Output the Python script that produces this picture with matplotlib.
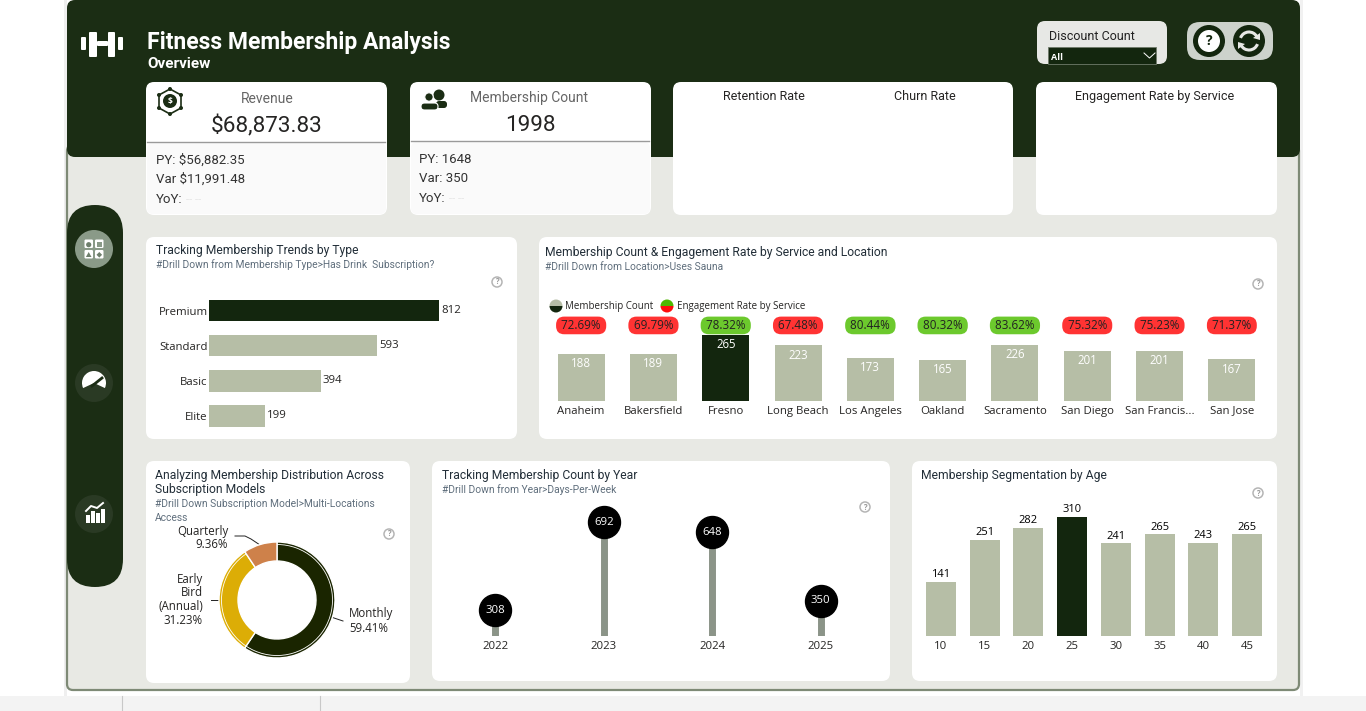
import matplotlib
matplotlib.use('Agg')
import matplotlib.pyplot as plt
from matplotlib.patches import FancyBboxPatch, Circle, Rectangle, Wedge, Polygon, Arc

plt.rcParams['font.family'] = ['Open Sans', 'DejaVu Sans']

W, H = 1366, 711
DARK = '#1B2D14'
BAR_DARK = '#13260E'
BAR_LIGHT = '#B6BEA6'
PANEL = '#E8E9E4'
TITLE = '#222E38'
SUB = '#5F6E7C'
DIN = ['Roboto', 'DejaVu Sans']

# Data
type_names = ['Premium', 'Standard', 'Basic', 'Elite']
type_counts = [812, 593, 394, 199]

locations = ['Anaheim', 'Bakersfield', 'Fresno', 'Long Beach', 'Los Angeles', 'Oakland',
             'Sacramento', 'San Diego', 'San Francis...', 'San Jose']
location_counts = [188, 189, 265, 223, 173, 165, 226, 201, 201, 167]
engagement = [72.69, 69.79, 78.32, 67.48, 80.44, 80.32, 83.62, 75.32, 75.23, 71.37]
engagement_cutoff = 78

model_share = [59.41, 31.23, 9.36]
model_colors = ['#1A2500', '#DCAD06', '#CE814A']

years = ['2022', '2023', '2024', '2025']
year_counts = [308, 692, 648, 350]

ages = ['10', '15', '20', '25', '30', '35', '40', '45']
age_counts = [141, 251, 282, 310, 241, 265, 243, 265]

fig = plt.figure(figsize=(W / 100, H / 100), dpi=100, facecolor='white')

# Background layer in pixel coordinates
bg = fig.add_axes([0, 0, 1, 1])
bg.set_xlim(0, W)
bg.set_ylim(H, 0)
bg.axis('off')


def box(x0, y0, x1, y1, r=8, fc='white', ec='none', lw=0, z=1):
    p = FancyBboxPatch((x0 + r, y0 + r), x1 - x0 - 2 * r, y1 - y0 - 2 * r,
                       boxstyle=f'round,pad={r},rounding_size={r}', fc=fc, ec=ec, lw=lw, zorder=z)
    bg.add_patch(p)
    return p


def text(x, y, s, size=9, color='black', ha='left', va='center', weight='normal', z=6, **kw):
    return bg.text(x, y, s, fontsize=size, color=color, ha=ha, va=va, weight=weight, zorder=z, **kw)


def din(x, y, s, size=9, color='black', ha='left', weight='normal'):
    # Roboto sits a little high compared to the original font
    return text(x, y + 1 + size * 0.11, s, size=size, color=color, ha=ha, weight=weight, family=DIN)


def help_icon(x, y):
    bg.add_patch(Circle((x, y), 5, fc='white', ec='#B5B5B5', lw=1.1, zorder=6))
    text(x, y, '?', size=5.5, color='#9A9A9A', ha='center', weight='bold')


def make_axes(x0, y0, x1, y1):
    ax = fig.add_axes([x0 / W, 1 - y1 / H, (x1 - x0) / W, (y1 - y0) / H])
    ax.patch.set_alpha(0)
    for s in ax.spines.values():
        s.set_visible(False)
    ax.tick_params(length=0)
    return ax


# Page frame
bg.add_patch(Rectangle((0, 696), W, 15, fc='#F3F3F3', ec='none', zorder=0))
for x in [122, 320]:
    bg.plot([x, x], [696, 711], color='#C8C8C8', lw=0.8, zorder=1)
bg.add_patch(Rectangle((64, 0), 3, 696, fc='#EFEFEF', ec='none', zorder=0))
bg.add_patch(Rectangle((1300, 0), 3, 696, fc='#F1F1F1', ec='none', zorder=0))
box(67, 145, 1299, 690, r=6, fc=PANEL, ec='#7E8A76', lw=1.6, z=1)
box(67, 0, 1300, 157, r=8, fc=DARK, z=2)

# Sidebar
box(67, 205, 123, 587, r=28, fc=DARK, z=2)
bg.add_patch(Circle((94, 249), 19, fc='#8A9A88', ec='none', zorder=3))
bg.add_patch(Circle((94, 383), 19, fc='#2A3A24', ec='none', zorder=3))
bg.add_patch(Circle((94, 514), 19, fc='#2A3A24', ec='none', zorder=3))

# Menu icon: four tiles with a small shape in each
for dx, dy in [(-9.5, -9.5), (1, -9.5), (-9.5, 1), (1, 1)]:
    box(94 + dx, 249 + dy, 94 + dx + 8.5, 249 + dy + 8.5, r=1.2, fc='white', z=4)
bg.add_patch(Circle((88.7, 244.7), 2.6, fc='#6E7F6C', ec='none', zorder=5))
bg.add_patch(Rectangle((97, 242), 4.6, 4.6, fc='#8A9A88', ec='none', zorder=5))
bg.add_patch(Polygon([(88.7, 252), (91.5, 257), (85.9, 257)], fc='#6E7F6C', ec='none', zorder=5))
bg.add_patch(Polygon([(99.3, 252), (102.1, 254.8), (99.3, 257.6), (96.5, 254.8)], fc='#6E7F6C', ec='none', zorder=5))

# Gauge icon
bg.add_patch(Wedge((94, 383), 12, 155, 385, fc='white', ec='none', zorder=4))
bg.plot([92, 102], [386, 378], color=DARK, lw=2, zorder=5)

# Chart icon
for bx, bh in [(86, 8), (91, 12), (96, 10), (101, 14)]:
    bg.add_patch(Rectangle((bx, 523 - bh), 3.6, bh, fc='white', ec='none', zorder=4))
bg.plot([86, 91, 97, 103], [511, 506, 508, 503], color='white', lw=1.4, zorder=4)

# Dumbbell icon
for x0, x1, y0, y1 in [(81, 86, 37, 50), (89, 97, 32, 57), (97, 108, 41, 46), (108, 115, 32, 57), (118, 123, 37, 50)]:
    box(x0, y0, x1, y1, r=1, fc='white', z=4)

# Header
din(147, 40, 'Fitness Membership Analysis', size=16.5, color='white', weight='bold')
din(147, 62, 'Overview', size=11, color='white', weight='bold')

# Slicer and buttons
box(1037, 21, 1167, 64, r=8, fc='#E7E8E5', z=3)
din(1049, 35, 'Discount Count', size=9, color='#222222')
bg.add_patch(Rectangle((1048, 47), 108, 17, fc=BAR_DARK, ec='#6F7B6A', lw=0.6, zorder=4))
text(1051, 57, 'All', size=6.5, color='white', weight='bold')
bg.plot([1144, 1149.5, 1155], [53, 58, 53], color='white', lw=0.7, zorder=5)
box(1187, 22, 1273, 60, r=13, fc='#CDD2CC', z=3)
bg.add_patch(Circle((1209, 41), 16, fc=BAR_DARK, ec='none', zorder=4))
bg.add_patch(Circle((1209, 41), 11, fc='white', ec='none', zorder=5))
text(1209, 41, '?', size=10, color=BAR_DARK, ha='center', weight='bold')
bg.add_patch(Circle((1249, 41), 16, fc=BAR_DARK, ec='none', zorder=4))
bg.add_patch(Arc((1249, 41), 18, 18, theta1=200, theta2=330, color='#E7E8E5', lw=2.2, zorder=5))
bg.add_patch(Arc((1249, 41), 18, 18, theta1=20, theta2=150, color='#E7E8E5', lw=2.2, zorder=5))
bg.add_patch(Polygon([(1260, 33), (1260, 40), (1253, 38)], fc='#E7E8E5', ec='none', zorder=5))
bg.add_patch(Polygon([(1238, 49), (1238, 42), (1245, 44)], fc='#E7E8E5', ec='none', zorder=5))

# KPI cards
for x0, y0, x1, y1 in [(146, 82, 387, 215), (410, 82, 651, 215), (673, 82, 1013, 215), (1036, 82, 1277, 215)]:
    box(x0, y0, x1, y1, r=8, z=3)
box(147, 143, 386, 214, r=6, fc='#FAFAFA', z=3)
box(411, 142, 650, 214, r=6, fc='#FAFAFA', z=3)
bg.plot([147, 385], [142, 142], color='#9A9A9A', lw=1, zorder=4)
bg.plot([411, 649], [141, 141], color='#9A9A9A', lw=1, zorder=4)

din(267, 97, 'Revenue', size=10, color='#666666', ha='center')
din(267, 124, '$68,873.83', size=16.2, color='#252423', ha='center')
din(156, 158, 'PY: $56,882.35', size=9.5, color='#333333')
din(156, 177, 'Var $11,991.48', size=9.5, color='#333333')
din(156, 197, 'YoY:', size=9.5, color='#333333')
din(186, 198, '-- --', size=8, color='#E6E6E6')
din(529, 96, 'Membership Count', size=10, color='#666666', ha='center')
din(530, 123, '1998', size=16.2, color='#252423', ha='center')
din(419, 157, 'PY: 1648', size=9.5, color='#333333')
din(419, 176, 'Var: 350', size=9.5, color='#333333')
din(419, 196, 'YoY:', size=9.5, color='#333333')
din(449, 197, '-- --', size=8, color='#E6E6E6')
din(764, 95, 'Retention Rate', size=9, color='#252423', ha='center')
din(925, 95, 'Churn Rate', size=9, color='#252423', ha='center')
din(1155, 95, 'Engagement Rate by Service', size=9, color='#252423', ha='center')

# Card icons
hex_pts = [(170, 89), (181, 95), (181, 108), (170, 114), (159, 108), (159, 95)]
bg.add_patch(Polygon(hex_pts, fc='none', ec=DARK, lw=1.2, zorder=5))
for px, py in hex_pts:
    bg.add_patch(Circle((px, py), 2, fc=DARK, ec='none', zorder=5))
bg.add_patch(Circle((170, 101), 7, fc=DARK, ec='none', zorder=5))
text(170, 101, '$', size=6, color='white', ha='center', weight='bold')
bg.add_patch(Circle((439, 95), 5.5, fc=DARK, ec='none', zorder=5))
box(436, 101, 447, 108, r=3, fc=DARK, z=5)
bg.add_patch(Circle((429, 97), 4.2, fc=DARK, ec='white', lw=0.8, zorder=6))
box(421, 103, 438, 110, r=3.4, fc=DARK, ec='white', lw=0.8, z=6)

# Chart cards
for x0, y0, x1, y1 in [(146, 237, 517, 439), (539, 237, 1277, 439), (146, 461, 410, 683),
                       (432, 461, 890, 681), (912, 461, 1277, 681)]:
    box(x0, y0, x1, y1, r=8, z=3)

din(156, 249, 'Tracking Membership Trends by Type', size=8.75, color=TITLE)
din(156, 263, '#Drill Down from Membership Type>Has Drink  Subscription?', size=7.4, color=SUB)
din(545, 251, 'Membership Count & Engagement Rate by Service and Location', size=8.75, color=TITLE)
din(545, 265, '#Drill Down from Location>Uses Sauna', size=7.4, color=SUB)
din(155, 474, 'Analyzing Membership Distribution Across', size=8.75, color=TITLE)
din(155, 488, 'Subscription Models', size=8.75, color=TITLE)
din(155, 502, '#Drill Down Subscription Model>Multi-Locations', size=7.4, color=SUB)
din(155, 516, 'Access', size=7.4, color=SUB)
din(442, 474, 'Tracking Membership Count by Year', size=8.75, color=TITLE)
din(442, 488, '#Drill Down from Year>Days-Per-Week', size=7.4, color=SUB)
din(921, 474, 'Membership Segmentation by Age', size=8.75, color=TITLE)
for x, y in [(497, 282), (1258, 284), (389, 534), (865, 507), (1258, 493)]:
    help_icon(x, y)

# Legend of the location chart
bg.add_patch(Wedge((556, 306), 6.5, 180, 360, fc=BAR_LIGHT, ec='none', zorder=5))
bg.add_patch(Wedge((556, 306), 6.5, 0, 180, fc=BAR_DARK, ec='none', zorder=5))
text(565, 306, 'Membership Count', size=7, color='#252423')
bg.add_patch(Wedge((667, 306), 6.5, 180, 360, fc='#4FB800', ec='none', zorder=5))
bg.add_patch(Wedge((667, 306), 6.5, 0, 180, fc='#FF0D0D', ec='none', zorder=5))
text(677, 306, 'Engagement Rate by Service', size=7, color='#252423')

# Membership by type
ax = make_axes(209, 293, 460, 434)
ypos = list(range(len(type_names)))
ax.barh(ypos, type_counts, height=0.62,
        color=[BAR_DARK if c == max(type_counts) else BAR_LIGHT for c in type_counts])
ax.set_xlim(0, 812 * 251 / 230)
ax.set_ylim(3.52, -0.5)
ax.set_yticks(ypos, type_names, fontsize=8.2, color='#252423')
ax.set_xticks([])
ax.tick_params(axis='y', pad=1)
for i, c in enumerate(type_counts):
    ax.text(c + 7, i, str(c), va='center', fontsize=8.2, color='#252423')

# Membership by location with engagement pills
ax = make_axes(545, 335, 1268, 401)
xpos = list(range(len(locations)))
ax.bar(xpos, location_counts, width=0.65,
       color=[BAR_DARK if c == max(location_counts) else BAR_LIGHT for c in location_counts])
ax.set_xlim(-0.5, len(locations) - 0.5)
ax.set_ylim(0, 265)
ax.set_yticks([])
ax.set_xticks(xpos, locations, fontsize=8.2, color='#252423')
ax.tick_params(axis='x', pad=3.3)
for i, (c, e) in enumerate(zip(location_counts, engagement)):
    ax.text(i, c - 13, str(c), ha='center', va='top', color='white', fontsize=8.3)
    pill = '#6CC92D' if e >= engagement_cutoff else '#FF3333'
    ax.annotate(f' {e:.2f}% ', (i, 1.145), xycoords=('data', 'axes fraction'), ha='center', va='center',
                fontsize=8.4, color='#222222', annotation_clip=False,
                bbox=dict(boxstyle='round,pad=0.2,rounding_size=0.7', fc=pill, ec='none'))

# Donut
ax = make_axes(207, 530, 347, 670)
ax.pie(model_share, colors=model_colors, startangle=90, counterclock=False, radius=58 / 70,
       wedgeprops=dict(width=19 / 70, edgecolor='white', linewidth=1))
ax.add_patch(Arc((0, 0), 2 * 55.5 / 70, 2 * 55.5 / 70, theta1=90 + model_share[-1] * 3.6, theta2=450,
                 color='white', lw=0.6, zorder=5))
ax.set_xlim(-1, 1)
ax.set_ylim(-1, 1)
ax.set_aspect('auto')
text(349, 614, 'Monthly', size=8.3, color='#252423')
text(349, 628, '59.41%', size=8.3, color='#252423')
text(203, 579, 'Early', size=8.3, color='#252423', ha='right')
text(203, 593, 'Bird', size=8.3, color='#252423', ha='right')
text(203, 607, '(Annual)', size=8.3, color='#252423', ha='right')
text(203, 621, '31.23%', size=8.3, color='#252423', ha='right')
text(228, 531, 'Quarterly', size=8.3, color='#252423', ha='right')
text(228, 545, '9.36%', size=8.3, color='#252423', ha='right')
bg.plot([331, 343], [617, 621], color='#222222', lw=0.7, zorder=6)
bg.plot([211, 219], [600, 600], color='#222222', lw=0.7, zorder=6)
bg.plot([235, 245, 251, 260], [536, 536, 539, 545], color='#222222', lw=0.7, zorder=6)

# Membership by year, axis does not start at zero in the original
ax = make_axes(441, 500, 875, 636)
xpos = list(range(len(years)))
ax.vlines(xpos, 195, year_counts, color='#8B9488', lw=5)
ax.scatter(xpos, year_counts, s=530, color='black', zorder=3, clip_on=False)
ax.set_xlim(-0.5, 3.5)
ax.set_ylim(195, 195 + 136 / 0.229)
ax.set_yticks([])
ax.set_xticks(xpos, years, fontsize=8.2, color='#252423')
ax.tick_params(axis='x', pad=3.3)
for i, c in enumerate(year_counts):
    ax.text(i, c, str(c), ha='center', va='center', color='white', fontsize=8.2, zorder=4)

# Membership by age
ax = make_axes(919, 510, 1269, 636)
xpos = list(range(len(ages)))
ax.bar(xpos, age_counts, width=0.69,
       color=[BAR_DARK if c == max(age_counts) else BAR_LIGHT for c in age_counts])
ax.set_xlim(-0.5, len(ages) - 0.5)
ax.set_ylim(0, 126 / 0.384)
ax.set_yticks([])
ax.set_xticks(xpos, ages, fontsize=8.2, color='#252423')
ax.tick_params(axis='x', pad=3.3)
for i, c in enumerate(age_counts):
    ax.text(i, c + 4, str(c), ha='center', va='bottom', color='black', fontsize=8)

fig.savefig('out.png', dpi=100)
